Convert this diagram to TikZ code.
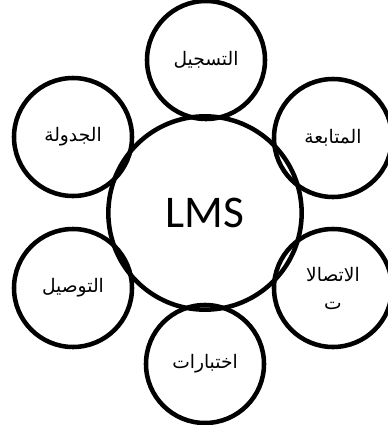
\documentclass[tikz,border=0pt]{standalone}
\usepackage{fontspec}
\TeXXeTstate=1
\newfontfamily\arabicfont[Script=Arabic]{DejaVu Sans}
\newfontfamily\lmsfont{Carlito}
\begin{document}
\begin{tikzpicture}[x=0.75pt,y=-0.75pt,
  ring/.style={draw=black,line width=3.4pt,circle,inner sep=0pt,minimum size=88.5pt,align=center,font=\arabicfont\fontsize{14}{21}\selectfont},
  hub/.style={draw=black,line width=3.4pt,circle,inner sep=0pt,minimum size=145pt,font=\lmsfont\fontsize{34}{38}\selectfont}]
\useasboundingbox (0,0) rectangle (388,425);
\node[hub] (lms) at (205,213) {LMS};
\node[ring] (reg) at (206,60) {\beginR التسجيل\endR};
\node[ring] (sch) at (73,137) {\beginR الجدولة\endR};
\node[ring] (fol) at (333,138) {\beginR المتابعة\endR};
\node[ring] (del) at (73,288) {\beginR التوصيل\endR};
\node[ring] (com) at (333,288) {\beginR الاتصالا\endR\\\beginR ت\endR};
\node[ring] (tst) at (205,364) {\beginR اختبارات\endR};
\end{tikzpicture}
\end{document}
